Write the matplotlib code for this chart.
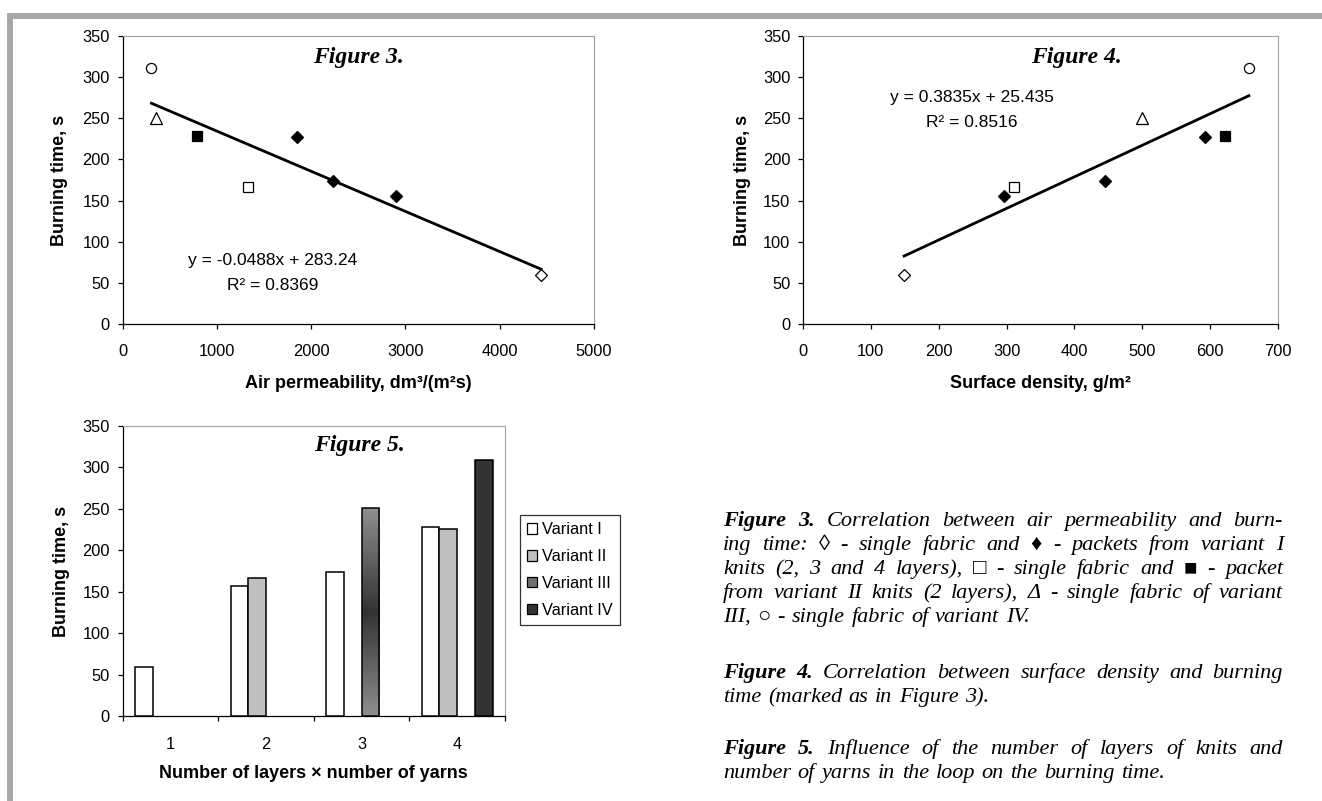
import numpy as np
import matplotlib
matplotlib.use("Agg")
import matplotlib.pyplot as plt
from matplotlib.patches import Rectangle, Patch

plt.rcParams['font.family'] = ['Liberation Sans', 'DejaVu Sans']

# samples: open diamond, 3 packets (var I), open / filled square (var II), triangle (III), circle (IV)
air_perm = [4439, 1849, 2237, 2901, 1328, 789, 357, 307]
surf_dens = [149, 592, 445, 296, 311, 622, 499, 657]
burn_time = [59, 227, 174, 156, 167, 229, 250, 311]
sample_marker = ['D', 'D', 'D', 'D', 's', 's', '^', 'o']
sample_filled = [False, True, True, True, False, True, False, False]

# trend lines as printed on the charts
fit3 = (-0.0488, 283.24, 0.8369)
fit4 = (0.3835, 25.435, 0.8516)

# figure 5 bars
layers = [1, 2, 3, 4]
variants = ['Variant I', 'Variant II', 'Variant III', 'Variant IV']
var_I = [59, 157, 174, 228]
var_II = [np.nan, 166, np.nan, 226]
var_III = [np.nan, np.nan, 251, np.nan]
var_IV = [np.nan, np.nan, np.nan, 309]

W, H = 1322, 801
fig = plt.figure(figsize=(W / 100, H / 100), dpi=100)

TICK_FS = 11.8
LABEL_FS = 13
SERIF = ['Liberation Serif', 'DejaVu Serif']


def rect(l, t, r, b):
    return [l / W, 1 - b / H, (r - l) / W, (b - t) / H]


def excel_axes(ax):
    for s in ['top', 'right']:
        ax.spines[s].set_color('#a0a0a0')
        ax.spines[s].set_linewidth(0.8)
    for s in ['left', 'bottom']:
        ax.spines[s].set_color('black')
        ax.spines[s].set_linewidth(0.9)
    ax.tick_params(direction='out', length=3.6, width=0.9, labelsize=TICK_FS)
    ax.tick_params(axis='x', pad=10.5)
    ax.tick_params(axis='y', pad=5.5)
    ax.set_ylim(0, 350)
    ax.set_yticks(range(0, 351, 50))


# gray frame
fig.add_artist(Rectangle((7 / W, 1 - 19 / H), 1, 6 / H, transform=fig.transFigure,
                         color='#a8a8aa', lw=0))
fig.add_artist(Rectangle((7 / W, 0), 6 / W, 1 - 13 / H, transform=fig.transFigure,
                         color='#a8a8aa', lw=0))

msizes = {'D': 6.0, 's': 7.3, '^': 8.0, 'o': 7.3}


def scatter_panel(ax, xs, fit, xmax, xstep, title, tx, eq_xy, xlabel, ylabel_x):
    excel_axes(ax)
    for x, y, m, f in zip(xs, burn_time, sample_marker, sample_filled):
        ax.plot(x, y, marker=m, ms=msizes[m], mfc='black' if f else 'white', mec='black',
                mew=0.9, ls='none', zorder=3)
    lo, hi = min(xs), max(xs)
    ax.plot([lo, hi], [fit[0] * lo + fit[1], fit[0] * hi + fit[1]], color='black', lw=2, zorder=2)
    ax.set_xlim(0, xmax)
    ax.set_xticks(range(0, xmax + 1, xstep))
    sign = '-' if fit[0] < 0 else ''
    ax.text(eq_xy[0], eq_xy[1], f"y = {sign}{abs(fit[0])}x + {fit[1]}", transform=ax.transAxes,
            ha='center', va='center', fontsize=12.5)
    ax.text(eq_xy[0], eq_xy[1] - 0.088, f"R² = {fit[2]}", transform=ax.transAxes,
            ha='center', va='center', fontsize=12.5)
    ax.text(tx, (324 - 57) / 288, title, transform=ax.transAxes, ha='center', va='center',
            fontsize=17, fontweight='bold', style='italic', family=SERIF)
    ax.set_xlabel(xlabel, fontsize=LABEL_FS, fontweight='bold', va='center')
    ax.xaxis.set_label_coords(0.5, -(384 - 324) / 288)
    ax.set_ylabel('Burning time, s', fontsize=LABEL_FS, fontweight='bold', va='center')
    ax.yaxis.set_label_coords(ylabel_x, 0.5)


ax3 = fig.add_axes(rect(122.5, 36, 594, 324))
scatter_panel(ax3, air_perm, fit3, 5000, 1000, 'Figure 3.', 0.5, (0.319, 0.22),
              'Air permeability, dm³/(m²s)', -(122.5 - 60) / 471.5)

ax4 = fig.add_axes(rect(803, 36, 1278, 324))
scatter_panel(ax4, surf_dens, fit4, 700, 100, 'Figure 4.', 0.576, (0.355, 0.787),
              'Surface density, g/m²', -(803 - 742) / 475)

# figure 5
ax5 = fig.add_axes(rect(122.5, 426, 505, 716))
excel_axes(ax5)
bw = 0.185
offs = [-1.5 * bw, -0.5 * bw, 0.5 * bw, 1.5 * bw]
x = np.array(layers, dtype=float)
b1 = ax5.bar(x + offs[0], var_I, bw, color='white', edgecolor='black', lw=1.1, zorder=3)
b2 = ax5.bar(x + offs[1], var_II, bw, color='#c0c0c0', edgecolor='black', lw=1.1, zorder=3)
b3 = ax5.bar(x + offs[2], var_III, bw, color='none', edgecolor='black', lw=1.1, zorder=3)
b4 = ax5.bar(x + offs[3], var_IV, bw, color='#333333', edgecolor='black', lw=1.1, zorder=3)

# shaded fill for variant III
shade = np.abs(np.linspace(-1, 1, 200))[:, None]
for p in b3.patches:
    if np.isnan(p.get_height()):
        continue
    x0, w0, h0 = p.get_x(), p.get_width(), p.get_height()
    im = ax5.imshow(0.2 + 0.36 * shade, cmap='gray', vmin=0, vmax=1, aspect='auto',
                    extent=[x0, x0 + w0, 0, h0], zorder=2)
    im.set_clip_path(p)

ax5.set_xlim(0.5, 4.5)
ax5.set_ylim(0, 350)
ax5.set_xticks([0.5, 1.5, 2.5, 3.5, 4.5])
ax5.set_xticklabels([])
ax5.set_xticks(layers, minor=True)
ax5.set_xticklabels([str(v) for v in layers], minor=True)
ax5.tick_params(axis='x', which='minor', length=0, pad=15, labelsize=TICK_FS)
ax5.text(0.62, (716 - 446) / 290, 'Figure 5.', transform=ax5.transAxes, ha='center', va='center',
         fontsize=17, fontweight='bold', style='italic', family=SERIF)
ax5.set_xlabel('Number of layers × number of yarns', fontsize=LABEL_FS, fontweight='bold', va='center')
ax5.xaxis.set_label_coords(0.5, -(774 - 716) / 290)
ax5.set_ylabel('Burning time, s', fontsize=LABEL_FS, fontweight='bold', va='center')
ax5.yaxis.set_label_coords(-(122.5 - 62) / 382.5, 0.5)

handles = [Patch(fc='white', ec='black', lw=0.9), Patch(fc='#c0c0c0', ec='black', lw=0.9),
           Patch(fc='#707070', ec='black', lw=0.9), Patch(fc='#333333', ec='black', lw=0.9)]
leg = ax5.legend(handles, variants, loc='center left', bbox_to_anchor=(520 / W, 1 - 570 / H),
                 bbox_transform=fig.transFigure, fontsize=11.8, frameon=True, fancybox=False,
                 edgecolor='black', handlelength=0.6, handleheight=0.6, handletextpad=0.3,
                 labelspacing=0.72, borderpad=0.45, borderaxespad=0)
leg.get_frame().set_linewidth(0.9)

# captions, justified
caps = [
    (["Figure 3. Correlation between air permeability and burn-",
      "ing time: ◊ - single fabric and ♦ - packets from variant I",
      "knits (2, 3 and 4 layers), □ - single fabric and ■ - packet",
      "from variant II knits (2 layers), Δ - single fabric of variant",
      "III, ○ - single fabric of variant IV."], 526),
    (["Figure 4. Correlation between surface density and burning",
      "time (marked as in Figure 3)."], 678),
    (["Figure 5. Influence of the number of layers of knits and",
      "number of yarns in the loop on the burning time."], 754),
]
cap_left, cap_right, cap_lh, cap_fs = 723, 1283, 24, 16
renderer = fig.canvas.get_renderer()
for lines, ybase in caps:
    for i, line in enumerate(lines):
        words = line.split(' ')
        texts = []
        for j, w in enumerate(words):
            t = fig.text(0, 1 - (ybase + i * cap_lh) / H, w, fontsize=cap_fs, style='italic',
                         fontweight='bold' if (i == 0 and j < 2) else 'normal',
                         family=SERIF, va='baseline', ha='left')
            texts.append(t)
        widths = [t.get_window_extent(renderer).width for t in texts]
        if i == len(lines) - 1:
            gap = 0.3 * cap_fs * 100 / 72
        else:
            gap = (cap_right - cap_left - sum(widths)) / (len(words) - 1)
        xp = cap_left
        for t, w in zip(texts, widths):
            t.set_x(xp / W)
            xp += w + gap

fig.savefig('out.png', dpi=100)
